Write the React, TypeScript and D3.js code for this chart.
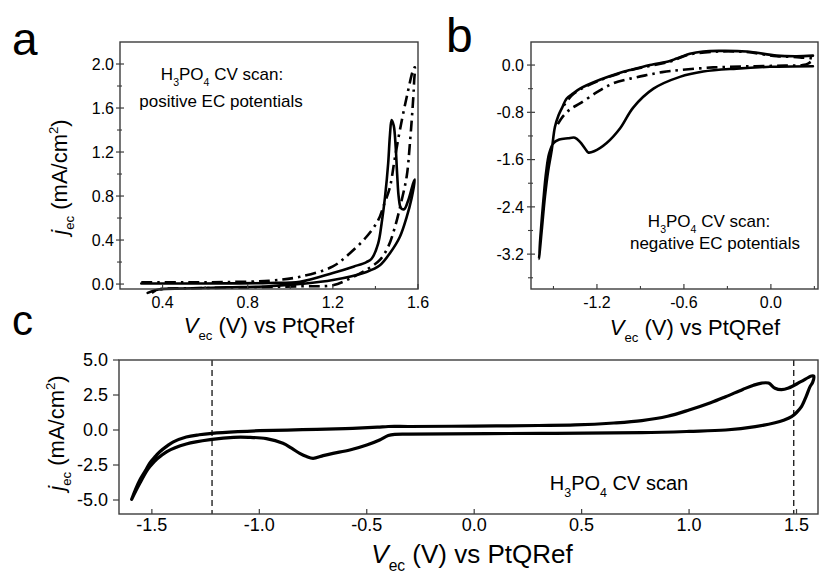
import React from 'react';
import * as d3 from 'd3';

type Pt = [number, number];

// panel a: H3PO4 CV, positive EC potentials (V vs PtQRef, mA/cm2)
const posSolid: Pt[] = [
  [0.30, 0.005], [0.5, 0.005], [0.7, 0.006], [0.9, 0.01], [1.045, 0.02], [1.2, 0.10], [1.3, 0.16],
  [1.358, 0.20], [1.382, 0.23], [1.413, 0.37], [1.429, 0.55], [1.445, 0.79], [1.46, 1.10], [1.468, 1.35],
  [1.476, 1.49], [1.486, 1.44], [1.495, 1.25], [1.502, 1.0], [1.51, 0.78], [1.52, 0.69], [1.535, 0.68],
  [1.554, 0.76], [1.578, 0.92], [1.585, 0.95],
  [1.57, 0.78], [1.547, 0.61], [1.515, 0.43], [1.468, 0.28], [1.421, 0.17], [1.358, 0.11], [1.2, 0.036],
  [1.045, 0.0], [0.9, -0.02], [0.7, -0.03], [0.5, -0.04], [0.38, -0.05], [0.33, -0.08],
];
const posDashDot: Pt[] = [
  [0.30, 0.015], [0.5, 0.015], [0.7, 0.018], [0.9, 0.03], [1.045, 0.066], [1.2, 0.16], [1.28, 0.28],
  [1.358, 0.43], [1.413, 0.58], [1.44, 0.72], [1.468, 0.88], [1.49, 1.13], [1.515, 1.40], [1.547, 1.70],
  [1.578, 1.95], [1.585, 1.97],
  [1.582, 1.85], [1.578, 1.70], [1.562, 1.28], [1.547, 0.98], [1.523, 0.76], [1.492, 0.52], [1.46, 0.34],
  [1.421, 0.22], [1.358, 0.13], [1.28, 0.05], [1.2, -0.01], [1.045, -0.02], [0.8, -0.03], [0.5, -0.04],
  [0.38, -0.05], [0.35, -0.08],
];

// panel b: negative EC potentials
const negSolid: Pt[] = [
  [0.29, 0.16], [0.177, 0.15], [0.04, 0.16], [-0.168, 0.23], [-0.352, 0.24], [-0.467, 0.23], [-0.559, 0.19],
  [-0.65, 0.11], [-0.697, 0.07], [-0.834, 0.0], [-0.972, -0.085], [-1.04, -0.13], [-1.18, -0.25],
  [-1.317, -0.40], [-1.363, -0.48], [-1.41, -0.57], [-1.44, -0.72], [-1.465, -0.85], [-1.49, -1.05],
  [-1.512, -1.44], [-1.536, -1.78], [-1.559, -2.23], [-1.581, -2.8], [-1.6, -3.28],
  [-1.59, -2.9], [-1.57, -2.3], [-1.55, -1.8], [-1.53, -1.5], [-1.50, -1.32], [-1.46, -1.26],
  [-1.40, -1.24], [-1.352, -1.23], [-1.317, -1.30], [-1.28, -1.42], [-1.26, -1.48], [-1.22, -1.46],
  [-1.133, -1.32], [-1.04, -1.07], [-0.95, -0.72], [-0.81, -0.40], [-0.628, -0.20], [-0.467, -0.11],
  [-0.237, -0.06], [-0.007, -0.03], [0.29, -0.02],
];
const negDashDot: Pt[] = [
  [-1.47, -1.0], [-1.432, -0.86], [-1.38, -0.74], [-1.317, -0.65], [-1.2, -0.46], [-1.088, -0.31],
  [-0.97, -0.23], [-0.857, -0.17], [-0.75, -0.12], [-0.628, -0.085], [-0.398, -0.04], [-0.2, -0.025],
  [-0.053, -0.017], [0.1, -0.01], [0.22, 0.0], [0.26, 0.03], [0.29, 0.10],
  [0.2, 0.13], [0.04, 0.15], [-0.168, 0.22], [-0.352, 0.23], [-0.559, 0.18], [-0.697, 0.06],
  [-0.972, -0.09], [-1.18, -0.26], [-1.363, -0.49], [-1.44, -0.73],
];

// panel c: full CV scan
const fullScan: Pt[] = [
  [-1.594, -4.95], [-1.575, -4.2], [-1.556, -3.57], [-1.53, -2.9], [-1.51, -2.36], [-1.485, -1.9],
  [-1.463, -1.55], [-1.43, -1.15], [-1.40, -0.85], [-1.34, -0.50], [-1.28, -0.34], [-1.22, -0.24],
  [-1.1, -0.12], [-1.0, -0.05], [-0.8, 0.02], [-0.6, 0.10], [-0.45, 0.2], [-0.4, 0.25], [-0.3, 0.25],
  [0.0, 0.28], [0.3, 0.32], [0.47, 0.36], [0.65, 0.5], [0.78, 0.67], [0.9, 0.98], [1.0, 1.43], [1.1, 1.95],
  [1.17, 2.38], [1.25, 2.9], [1.3, 3.2], [1.337, 3.35], [1.37, 3.35], [1.40, 2.98], [1.43, 2.88],
  [1.463, 3.0], [1.52, 3.45], [1.57, 3.86], [1.58, 3.85],
  [1.575, 3.4], [1.563, 3.1], [1.545, 2.4], [1.523, 1.67], [1.5, 1.25], [1.477, 0.95], [1.44, 0.7],
  [1.40, 0.52], [1.308, 0.24], [1.17, 0.0], [1.0, -0.1], [0.78, -0.19], [0.314, -0.24], [-0.305, -0.29],
  [-0.37, -0.31], [-0.40, -0.40], [-0.44, -0.71], [-0.5, -1.07], [-0.579, -1.43], [-0.657, -1.67],
  [-0.703, -1.83], [-0.75, -2.02], [-0.78, -1.9], [-0.812, -1.67], [-0.85, -1.3], [-0.89, -0.95],
  [-0.967, -0.62], [-1.05, -0.52], [-1.12, -0.52], [-1.22, -0.67], [-1.34, -1.0], [-1.43, -1.55],
  [-1.51, -2.62], [-1.556, -3.81], [-1.594, -4.95],
];
const cutoffs = [-1.22, 1.487];

const aXTicks = [0.4, 0.8, 1.2, 1.6];
const aXMinor = [0.6, 1.0, 1.4];
const aYTicks = [0.0, 0.4, 0.8, 1.2, 1.6, 2.0];
const aYMinor = [0.2, 0.6, 1.0, 1.4, 1.8];
const bXTicks = [-1.2, -0.6, 0.0];
const bXMinor = [-1.5, -0.9, -0.3, 0.3];
const bYTicks = [0.0, -0.8, -1.6, -2.4, -3.2];
const bYMinor = [-0.4, -1.2, -2.0, -2.8, -3.6];
const cXTicks = [-1.5, -1.0, -0.5, 0.0, 0.5, 1.0, 1.5];
const cYTicks = [5.0, 2.5, 0.0, -2.5, -5.0];

const FONT = "'Liberation Sans', Arial, Helvetica, sans-serif";
const fmt = (v: number) => v.toFixed(1);

type Curve = { data: Pt[]; width: number; dash?: string };

function Panel(props: any) {
  const { box, xDomain, yDomain, xTicks, xMinor = [], yTicks, yMinor = [], fontSize, yLabelGap,
    yTickOut, yTickIn, xLabelDy, curves, vlines = [] } = props;
  const x = d3.scaleLinear().domain(xDomain).range([box.l, box.r]);
  const y = d3.scaleLinear().domain(yDomain).range([box.b, box.t]);
  const line = d3.line<Pt>().x(d => x(d[0])).y(d => y(d[1])).curve(d3.curveCatmullRom.alpha(0.5));
  const axisColor = '#3c3c3c';
  return (
    <g fontFamily={FONT}>
      {vlines.map((v: number, i: number) => (
        <line key={'v' + i} x1={x(v)} x2={x(v)} y1={box.t} y2={box.b} stroke="#222" strokeWidth={1.4}
          strokeDasharray="6,4" />
      ))}
      {curves.map((c: Curve, i: number) => (
        <path key={'c' + i} d={line(c.data) || ''} fill="none" stroke="#000" strokeWidth={c.width}
          strokeDasharray={c.dash} strokeLinejoin="round" strokeLinecap={c.dash ? 'butt' : 'round'} />
      ))}
      <rect x={box.l} y={box.t} width={box.r - box.l} height={box.b - box.t} fill="none"
        stroke={axisColor} strokeWidth={1.4} />
      {xTicks.map((t: number) => (
        <g key={'xt' + t}>
          <line x1={x(t)} x2={x(t)} y1={box.b} y2={box.b - 5} stroke={axisColor} strokeWidth={1.2} />
          <text x={x(t)} y={box.b + xLabelDy} textAnchor="middle" fontSize={fontSize}>{fmt(t)}</text>
        </g>
      ))}
      {xMinor.map((t: number) => (
        <line key={'xm' + t} x1={x(t)} x2={x(t)} y1={box.b} y2={box.b - 3} stroke={axisColor} strokeWidth={1.1} />
      ))}
      {yTicks.map((t: number) => (
        <g key={'yt' + t}>
          <line x1={box.l - yTickOut} x2={box.l + yTickIn} y1={y(t)} y2={y(t)} stroke={axisColor} strokeWidth={1.2} />
          <text x={box.l - yLabelGap} y={y(t)} dy="0.36em" textAnchor="end" fontSize={fontSize}>{fmt(t)}</text>
        </g>
      ))}
      {yMinor.map((t: number) => (
        <line key={'ym' + t} x1={box.l - 3} x2={box.l + 2} y1={y(t)} y2={y(t)} stroke={axisColor} strokeWidth={1.1} />
      ))}
    </g>
  );
}

function XTitle({ cx, y, size }: { cx: number; y: number; size: number }) {
  return (
    <text x={cx} y={y} textAnchor="middle" fontSize={size} fontFamily={FONT}>
      <tspan fontStyle="italic">V</tspan>
      <tspan fontSize={size * 0.6} dy={size * 0.3}>ec</tspan>
      <tspan dy={-size * 0.3}> (V) vs PtQRef</tspan>
    </text>
  );
}

function YTitle({ x, cy, size }: { x: number; cy: number; size: number }) {
  return (
    <text transform={`translate(${x},${cy}) rotate(-90)`} textAnchor="middle" fontSize={size} fontFamily={FONT}>
      <tspan fontStyle="italic">j</tspan>
      <tspan fontSize={size * 0.6} dy={size * 0.3}>ec</tspan>
      <tspan dy={-size * 0.3}> (mA/cm</tspan>
      <tspan fontSize={size * 0.6} dy={-size * 0.4}>2</tspan>
      <tspan dy={size * 0.4}>)</tspan>
    </text>
  );
}

function Acid({ x, y, size, suffix }: { x: number; y: number; size: number; suffix: string }) {
  const s = size * 0.62;
  const d = size * 0.33;
  return (
    <text x={x} y={y} textAnchor="middle" fontSize={size} fontFamily={FONT}>
      H<tspan fontSize={s} dy={d}>3</tspan>
      <tspan dy={-d}>PO</tspan>
      <tspan fontSize={s} dy={d}>4</tspan>
      <tspan dy={-d}>{suffix}</tspan>
    </text>
  );
}

export default function App() {
  return (
    <svg width={819} height={581} style={{ position: 'absolute', left: 0, top: 0, background: '#fff' }}>
      <rect width={819} height={581} fill="#fff" />
      <Panel box={{ l: 120, r: 418, t: 42, b: 289 }} xDomain={[0.2, 1.6]} yDomain={[-0.045, 2.2]}
        xTicks={aXTicks} xMinor={aXMinor} yTicks={aYTicks} yMinor={aYMinor} fontSize={16}
        yLabelGap={6} yTickOut={4} yTickIn={4} xLabelDy={19}
        curves={[{ data: posSolid, width: 2.6 }, { data: posDashDot, width: 2.6, dash: '11,5,2.5,5' }]} />
      <Panel box={{ l: 531, r: 818, t: 42, b: 289 }} xDomain={[-1.655, 0.325]} yDomain={[-3.79, 0.39]}
        xTicks={bXTicks} xMinor={bXMinor} yTicks={bYTicks} yMinor={bYMinor} fontSize={16}
        yLabelGap={7} yTickOut={4} yTickIn={4} xLabelDy={19}
        curves={[{ data: negDashDot, width: 2.6, dash: '11,5,2.5,5' }, { data: negSolid, width: 2.6 }]} />
      <Panel box={{ l: 119, r: 818, t: 360, b: 514 }} xDomain={[-1.653, 1.6]} yDomain={[-6.0, 5.0]}
        xTicks={cXTicks} yTicks={cYTicks} fontSize={18}
        yLabelGap={11} yTickOut={6} yTickIn={0} xLabelDy={17}
        curves={[{ data: fullScan, width: 3.2 }]} vlines={cutoffs} />

      <Acid x={222} y={80} size={17} suffix=" CV scan:" />
      <text x={221} y={107} textAnchor="middle" fontSize={17} fontFamily={FONT}>positive EC potentials</text>
      <Acid x={709} y={227} size={17} suffix=" CV scan:" />
      <text x={715} y={249} textAnchor="middle" fontSize={17} fontFamily={FONT}>negative EC potentials</text>
      <Acid x={619} y={490} size={20} suffix=" CV scan" />

      <XTitle cx={269} y={333} size={22} />
      <XTitle cx={695} y={335} size={22} />
      <XTitle cx={472} y={563} size={26} />
      <YTitle x={67} cy={177} size={22} />
      <YTitle x={64} cy={433} size={22} />

      <text x={12} y={55} fontSize={46} fontFamily={FONT}>a</text>
      <text x={446} y={52} fontSize={48} fontFamily={FONT}>b</text>
      <text x={12} y={335} fontSize={42} fontFamily={FONT}>c</text>
    </svg>
  );
}
